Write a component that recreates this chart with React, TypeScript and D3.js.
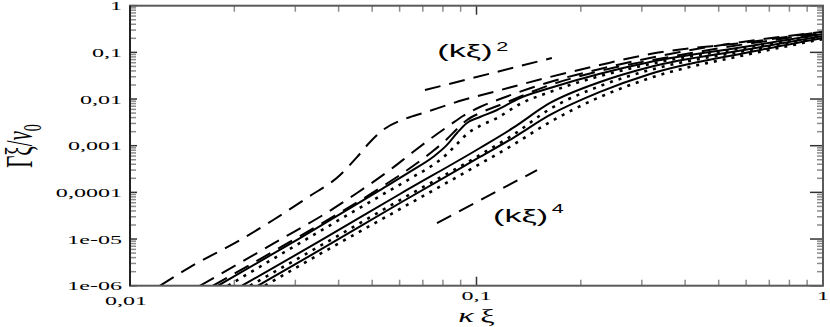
import * as d3 from "d3";

const W = 830;
const H = 327;
const plot = { left: 130, right: 823, top: 5.7, bottom: 285.7 };

const xMajor = [0.01, 0.1, 1];
const xMajorLabels = ["0,01", "0,1", "1"];
const yMajor = [1e-6, 1e-5, 1e-4, 1e-3, 1e-2, 1e-1, 1];
const yMajorLabels = ["1e-06", "1e-05", "0,0001", "0,001", "0,01", "0,1", "1"];

// [kξ, Γξ/ν0]
const dashA = [
  [0.01221, 1e-6], [0.0149, 2.5e-6], [0.0208, 9.5e-6], [0.0259, 2.56e-5],
  [0.0324, 7.6e-5], [0.0404, 2.36e-4], [0.0452, 5.7e-4], [0.0493, 1.2e-3],
  [0.0537, 2.17e-3], [0.063, 3.9e-3], [0.07, 5.0e-3], [0.0914, 9.5e-3],
  [0.1146, 0.0149], [0.163, 0.0297], [0.227, 0.0536], [0.317, 0.0923],
  [0.615, 0.167], [1, 0.277],
];
const dashB = [
  [0.01592, 1e-6], [0.02325, 5.0e-6], [0.02895, 1.28e-5], [0.03606, 3.27e-5],
  [0.0452, 9.7e-5], [0.05627, 3.02e-4], [0.06557, 7.33e-4], [0.07489, 1.54e-3],
  [0.08385, 2.78e-3], [0.09141, 4.33e-3], [0.1023, 6.75e-3], [0.1169, 0.01],
  [0.163, 0.0232], [0.2272, 0.044], [0.3867, 0.1018], [1, 0.277],
];
const dashC = [
  [0.01736, 1e-6], [0.03095, 1.16e-5], [0.05267, 1.24e-4], [0.06557, 3.67e-4],
  [0.07489, 7.7e-4], [0.0822, 1.39e-3], [0.08784, 2.28e-3], [0.09387, 3.55e-3],
  [0.1023, 5.02e-3], [0.1169, 7.45e-3], [0.163, 0.02], [0.2272, 0.0399],
  [0.3867, 0.0878], [1, 0.26],
];
const solid1 = [
  [0.01795, 1e-6], [0.03095, 1.05e-5], [0.05267, 1.12e-4], [0.06557, 3.02e-4],
  [0.07489, 5.73e-4], [0.0822, 1.04e-3], [0.08784, 1.87e-3], [0.09387, 3.07e-3],
  [0.1023, 4.12e-3], [0.1146, 5.82e-3], [0.1335, 0.01053], [0.163, 0.0172],
  [0.3168, 0.0622], [0.6155, 0.1369], [1, 0.2475],
];
const dotted1 = [
  [0.01918, 1e-6], [0.03095, 8.24e-6], [0.05267, 8.36e-5], [0.06557, 2.14e-4],
  [0.07489, 3.86e-4], [0.0822, 6.64e-4], [0.08784, 1.09e-3], [0.09387, 1.78e-3],
  [0.1023, 2.65e-3], [0.1146, 3.92e-3], [0.1335, 7.83e-3], [0.163, 0.0142],
  [0.3168, 0.0563], [0.6155, 0.1303], [1, 0.2356],
];
const solid2 = [
  [0.02105, 1e-6], [0.03535, 9.08e-6], [0.06015, 9.23e-5], [0.1023, 8.93e-4],
  [0.1274, 2.4e-3], [0.163, 8.23e-3], [0.2272, 0.0232], [0.3168, 0.0486],
  [0.6155, 0.1181], [1, 0.2242],
];
const dotted2 = [
  [0.0222, 1e-6], [0.03535, 7.1e-6], [0.06015, 6.86e-5], [0.1023, 6.32e-4],
  [0.1274, 1.7e-3], [0.163, 6.12e-3], [0.2272, 0.019], [0.3168, 0.0419],
  [0.6155, 0.1124], [1, 0.2135],
];
const solid3 = [
  [0.02341, 1e-6], [0.03535, 5.83e-6], [0.06015, 5.92e-5], [0.1023, 5.73e-4],
  [0.1274, 1.46e-3], [0.163, 4.55e-3], [0.2272, 0.0142], [0.3168, 0.0344],
  [0.6155, 0.1018], [1, 0.2032],
];
const dotted3 = [
  [0.02453, 1e-6], [0.03535, 4.78e-6], [0.06015, 4.4e-5], [0.1023, 4.06e-4],
  [0.1274, 1.04e-3], [0.163, 3.22e-3], [0.2272, 0.01106], [0.3168, 0.0282],
  [0.6155, 0.0923], [1, 0.1934],
];
const slope2 = [[0.071, 0.0156], [0.165, 0.0757]];
const slope4 = [[0.0769, 2.2e-5], [0.1495, 3.0e-4]];

const DASH = "16,9";
const DOT = "3,6";

const series = [
  { data: dotted3, dash: DOT },
  { data: dotted2, dash: DOT },
  { data: dotted1, dash: DOT },
  { data: solid3, dash: null },
  { data: solid2, dash: null },
  { data: solid1, dash: null },
  { data: dashC, dash: DASH },
  { data: dashB, dash: DASH },
  { data: dashA, dash: DASH },
];

const SX = 1.85; // the figure is stretched horizontally

export default function App() {
  const x = d3.scaleLog().domain([0.01, 1]).range([plot.left, plot.right]);
  const y = d3.scaleLog().domain([1e-6, 1]).range([plot.bottom, plot.top]);

  const line = d3.line<number[]>()
    .x(d => x(d[0]))
    .y(d => y(d[1]))
    .curve(d3.curveMonotoneX);
  const straight = d3.line<number[]>().x(d => x(d[0])).y(d => y(d[1]));

  const xMinor: number[] = [];
  [0.01, 0.1].forEach(dec => { for (let k = 2; k <= 9; k++) xMinor.push(dec * k); });
  const yMinor: number[] = [];
  [1e-6, 1e-5, 1e-4, 1e-3, 1e-2, 1e-1].forEach(dec => { for (let k = 2; k <= 9; k++) yMinor.push(dec * k); });

  const frame = "#5a5a5a";
  const minorC = "#8c8c8c";

  return (
    <svg width={W} height={H} style={{ position: "absolute", left: 0, top: 0, background: "#fff" }}>
      <defs>
        <clipPath id="plotclip">
          <rect x={plot.left} y={plot.top} width={plot.right - plot.left} height={plot.bottom - plot.top} />
        </clipPath>
      </defs>

      {/* minor ticks */}
      <g stroke={minorC} strokeWidth={1.5}>
        {yMinor.map((v, i) => (
          <g key={"ym" + i}>
            <line x1={plot.left} x2={plot.left + 6} y1={y(v)} y2={y(v)} />
            <line x1={plot.right} x2={plot.right - 6} y1={y(v)} y2={y(v)} />
          </g>
        ))}
        {xMinor.map((v, i) => (
          <g key={"xm" + i}>
            <line x1={x(v)} x2={x(v)} y1={plot.bottom} y2={plot.bottom - 6} />
            <line x1={x(v)} x2={x(v)} y1={plot.top} y2={plot.top + 6} />
          </g>
        ))}
      </g>
      {/* major ticks */}
      <g stroke="#333" strokeWidth={1.5}>
        {yMajor.map((v, i) => (
          <g key={"yM" + i}>
            <line x1={plot.left} x2={plot.left + 7} y1={y(v)} y2={y(v)} />
            <line x1={plot.right} x2={plot.right - 13} y1={y(v)} y2={y(v)} />
          </g>
        ))}
        {xMajor.map((v, i) => (
          <g key={"xM" + i}>
            <line x1={x(v)} x2={x(v)} y1={plot.bottom} y2={plot.bottom - 9} />
            <line x1={x(v)} x2={x(v)} y1={plot.top} y2={plot.top + 9} />
          </g>
        ))}
      </g>

      {/* curves */}
      <g clipPath="url(#plotclip)" fill="none" stroke="#000">
        {series.map((s, i) => (
          <path key={i} d={line(s.data) || ""} strokeWidth={s.dash === DOT ? 2.6 : 2}
            strokeDasharray={s.dash || undefined} />
        ))}
        <path d={straight(slope2) || ""} strokeWidth={2} strokeDasharray={DASH} />
        <path d={straight(slope4) || ""} strokeWidth={2} strokeDasharray={DASH} />
      </g>

      {/* frame */}
      <rect x={plot.left} y={plot.top} width={plot.right - plot.left} height={plot.bottom - plot.top}
        fill="none" stroke={frame} strokeWidth={2} />
      <line x1={plot.left} x2={plot.left} y1={plot.top} y2={plot.bottom} stroke="#222" strokeWidth={2} />

      {/* tick labels */}
      <g fontFamily="'Liberation Serif', 'Times New Roman', serif" fontSize={13} fill="#000">
        {yMajor.map((v, i) => (
          <text key={"yl" + i} transform={`translate(122,${y(v) + 4.5}) scale(${SX},1)`} textAnchor="end">
            {yMajorLabels[i]}
          </text>
        ))}
        {xMajor.map((v, i) => (
          <text key={"xl" + i} transform={`translate(${x(v) - (i === 0 ? 4 : 0)},${i === 0 ? 305 : 299.5}) scale(${SX},1)`}
            textAnchor="middle">
            {xMajorLabels[i]}
          </text>
        ))}
      </g>

      {/* axis titles */}
      <text transform={`translate(32,146) scale(1.8,1) rotate(-90)`} textAnchor="middle"
        fontFamily="'Liberation Serif', 'Times New Roman', serif" fontSize={21}>
        Γξ/<tspan fontStyle="italic">ν</tspan><tspan fontSize={14} dy={5}>0</tspan>
      </text>
      <text transform={`translate(${x(0.1)},321.5) scale(1.8,1)`} textAnchor="middle"
        fontFamily="'Liberation Serif', 'Times New Roman', serif" fontSize={18}>
        <tspan fontStyle="italic">κ</tspan>{"\u2009"}ξ
      </text>

      {/* slope annotations */}
      <g fontFamily="'Liberation Sans', Arial, sans-serif" fill="#000">
        <text transform={`translate(${x(0.0771)},${y(0.0796)}) scale(1.8,1)`} fontSize={19}>
          (kξ)<tspan fontSize={12} dx={2} dy={-6}>2</tspan>
        </text>
        <text transform={`translate(${x(0.1116)},${y(2.32e-5)}) scale(1.8,1)`} fontSize={19}>
          (kξ)<tspan fontSize={12} dx={2} dy={-9}>4</tspan>
        </text>
      </g>
    </svg>
  );
}
